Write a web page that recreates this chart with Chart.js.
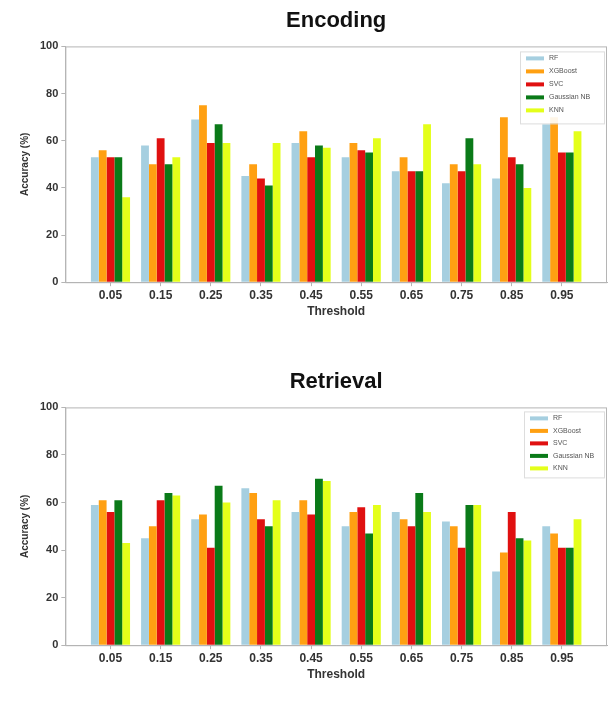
<!DOCTYPE html>
<html>
<head>
<meta charset="utf-8">
<script src="https://cdn.jsdelivr.net/npm/chart.js@4"></script>
<style>
  html, body { margin: 0; padding: 0; background: #fff; }
  .wrap { position: relative; width: 614px; }
  #encodingChart { display: block; width: 614px; height: 356px; }
  #retrievalChart { display: block; width: 614px; height: 348px; }
</style>
</head>
<body>
<div class="wrap"><canvas id="encodingChart" width="614" height="356"></canvas></div>
<div class="wrap"><canvas id="retrievalChart" width="614" height="348"></canvas></div>
<script>
// thresholds on the x axis
const thresholds = ['0.05', '0.15', '0.25', '0.35', '0.45', '0.55', '0.65', '0.75', '0.85', '0.95'];
const models = ['RF', 'XGBoost', 'SVC', 'Gaussian NB', 'KNN'];
const yTicks = [0, 20, 40, 60, 80, 100];

// Encoding accuracy (%)
const encodingRF = [53, 58, 69, 45, 59, 53, 47, 42, 44, 67];
const encodingXGB = [56, 50, 75, 50, 64, 59, 53, 50, 70, 70];
const encodingSVC = [53, 61, 59, 44, 53, 56, 47, 47, 53, 55];
const encodingGNB = [53, 50, 67, 41, 58, 55, 47, 61, 50, 55];
const encodingKNN = [36, 53, 59, 59, 57, 61, 67, 50, 40, 64];

// Retrieval accuracy (%)
const retrievalRF = [59, 45, 53, 66, 56, 50, 56, 52, 31, 50];
const retrievalXGB = [61, 50, 55, 64, 61, 56, 53, 50, 39, 47];
const retrievalSVC = [56, 61, 41, 53, 55, 58, 50, 41, 56, 41];
const retrievalGNB = [61, 64, 67, 50, 70, 47, 64, 59, 45, 41];
const retrievalKNN = [43, 63, 60, 61, 69, 59, 56, 59, 44, 53];

const modelColors = ['#a6cfe0', '#ffa012', '#e01010', '#0a7a18', '#e4ff1a'];
const textColor = '#333333';
const frameColor = '#b5b5b5';
const fontFamily = "'Liberation Sans', Arial, sans-serif";

// matplotlib-like box round the plot area
const framePlugin = {
  id: 'frame',
  afterDraw(chart) {
    const { ctx, chartArea: a } = chart;
    ctx.save();
    ctx.strokeStyle = frameColor;
    ctx.lineWidth = 1;
    ctx.strokeRect(a.left + 0.5, a.top + 0.5, a.right - a.left - 1, a.bottom - a.top);
    ctx.restore();
  }
};

// legend drawn inside the upper right corner of the plot
const boxLegendPlugin = {
  id: 'boxLegend',
  afterDraw(chart, args, opts) {
    const { ctx, chartArea: a } = chart;
    const x = a.right - opts.width - 3;
    const y = a.top + opts.offsetY;
    ctx.save();
    ctx.fillStyle = 'rgba(255,255,255,0.9)';
    ctx.fillRect(x, y, opts.width, opts.height);
    ctx.strokeStyle = '#dddddd';
    ctx.strokeRect(x + 0.5, y + 0.5, opts.width, opts.height);
    ctx.font = '7px ' + fontFamily;
    ctx.textBaseline = 'middle';
    chart.data.datasets.forEach((ds, i) => {
      const cy = y + 7 + i * opts.step;
      ctx.fillStyle = ds.backgroundColor;
      ctx.fillRect(x + 6, cy - 2, 18, 4);
      ctx.fillStyle = '#555555';
      ctx.fillText(ds.label, x + 29, cy);
    });
    ctx.restore();
  }
};

function makeDatasets(seriesList) {
  return seriesList.map((values, m) => ({
    label: models[m],
    data: values.map((v, i) => ({ x: i, y: v })),
    backgroundColor: modelColors[m],
    borderWidth: 0,
    categoryPercentage: 0.78,
    barPercentage: 1.0
  }));
}

function createAccuracyChart(canvasId, title, seriesList, layout, legend) {
  const ctx = document.getElementById(canvasId);
  if (!ctx) return null;

  return new Chart(ctx, {
    type: 'bar',
    data: { datasets: makeDatasets(seriesList) },
    options: {
      responsive: false,
      animation: false,
      layout: { padding: layout },
      plugins: {
        legend: { display: false },
        tooltip: { enabled: false },
        title: {
          display: true,
          text: title,
          fullSize: false,
          color: '#111111',
          font: { family: fontFamily, size: 22, weight: 'bold' },
          padding: { top: 0, bottom: 12 }
        },
        boxLegend: legend
      },
      scales: {
        x: {
          type: 'linear',
          min: -0.9,
          max: 9.9,
          offset: false,
          afterBuildTicks: (scale) => {
            scale.ticks = thresholds.map((t, i) => ({ value: i }));
          },
          ticks: {
            color: textColor,
            padding: 2,
            maxRotation: 0,
            font: { family: fontFamily, size: 12, weight: 'bold' },
            callback: (value) => thresholds[value]
          },
          grid: { drawOnChartArea: false, offset: false, tickLength: 4, color: frameColor },
          border: { color: frameColor },
          title: {
            display: true,
            text: 'Threshold',
            color: textColor,
            font: { family: fontFamily, size: 12, weight: 'bold' },
            padding: { top: 0, bottom: 0 }
          }
        },
        y: {
          min: 0,
          max: 100,
          afterBuildTicks: (scale) => {
            scale.ticks = yTicks.map(v => ({ value: v }));
          },
          ticks: {
            color: textColor,
            padding: 3,
            font: { family: fontFamily, size: 11, weight: 'bold' }
          },
          grid: { drawOnChartArea: false, tickLength: 4, color: frameColor },
          border: { color: frameColor },
          title: {
            display: true,
            text: 'Accuracy (%)',
            color: textColor,
            font: { family: fontFamily, size: 10, weight: 'bold' },
            padding: { top: 0, bottom: 6 }
          }
        }
      }
    },
    plugins: [framePlugin, boxLegendPlugin]
  });
}

createAccuracyChart('encodingChart', 'Encoding',
  [encodingRF, encodingXGB, encodingSVC, encodingGNB, encodingKNN],
  { top: 8, right: 7, bottom: 37, left: 19 },
  { width: 84, height: 72, step: 13, offsetY: 5 });

createAccuracyChart('retrievalChart', 'Retrieval',
  [retrievalRF, retrievalXGB, retrievalSVC, retrievalGNB, retrievalKNN],
  { top: 13, right: 7, bottom: 22, left: 19 },
  { width: 80, height: 66, step: 12.5, offsetY: 4 });
</script>
</body>
</html>
